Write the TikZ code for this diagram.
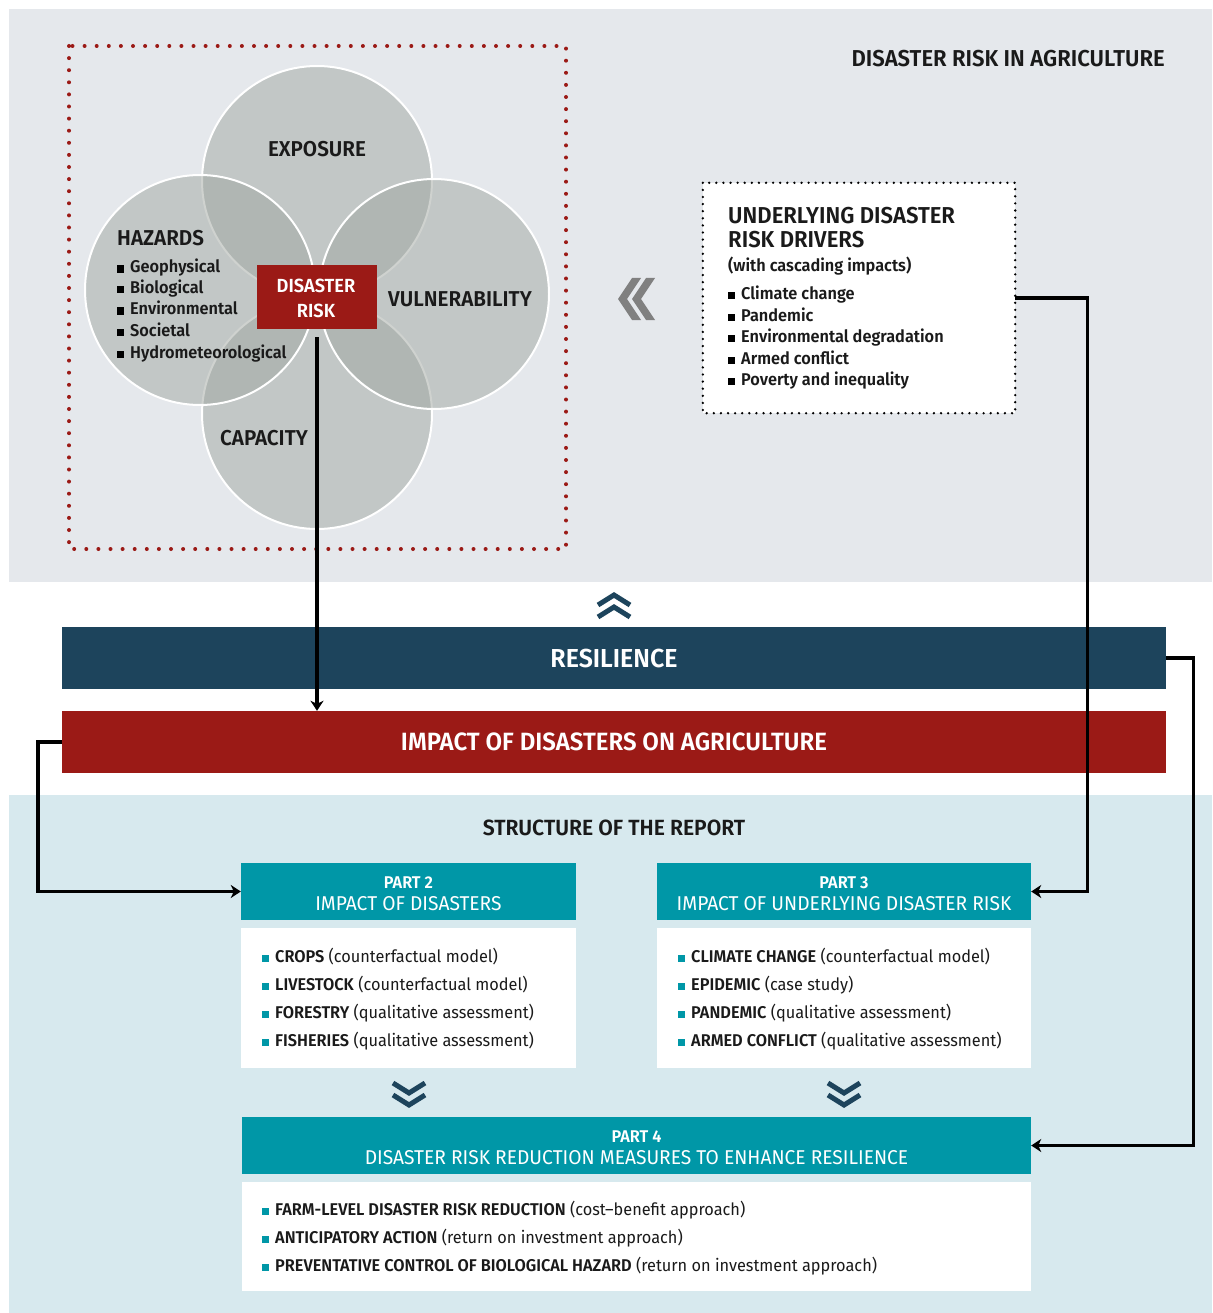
\documentclass[tikz,border=0pt]{standalone}
\usepackage{fontspec}
\setmainfont{Fira Sans}[FakeStretch=0.96, BoldFont={Fira Sans SemiBold}]
\usetikzlibrary{arrows.meta}
\definecolor{bgtop}{RGB}{229,232,236}
\definecolor{bgbot}{RGB}{215,233,238}
\definecolor{dred}{RGB}{155,26,22}
\definecolor{navy}{RGB}{29,68,92}
\definecolor{tealc}{RGB}{0,151,167}
\definecolor{vennc}{RGB}{160,167,161}
\definecolor{txt}{RGB}{26,26,26}
\definecolor{chev}{RGB}{128,128,128}
\newcommand\fsz[1]{\fontsize{#1}{#1}\selectfont}
\newcommand\tbul{\textcolor{tealc}{\rule[0.5pt]{7pt}{7pt}}\hspace{6pt}}
\newcommand\kbul{\textcolor{black}{\rule[0.5pt]{7pt}{7pt}}\hspace{6pt}}
\begin{document}
\begin{tikzpicture}[x=1pt,y=-1pt,
  vcirc/.style={circle, minimum size=230pt, inner sep=0pt, fill=vennc, fill opacity=0.5, draw=white, line width=2pt},
  bar/.style={minimum width=1104pt, minimum height=62pt, inner sep=0pt, text=white, font=\bfseries\fsz{25}},
  phead/.style={fill=tealc, minimum height=57pt, inner sep=0pt},
  pbody/.style={fill=white, inner sep=0pt},
  ptxt/.style={anchor=base west, inner sep=0pt, text=txt, font=\fsz{17}},
  htxt/.style={anchor=base, inner sep=0pt, text=white},
  vlab/.style={inner sep=0pt, text=txt, font=\bfseries\fsz{21.5}},
  ltxt/.style={anchor=base west, inner sep=0pt, text=txt, font=\bfseries\fsz{17}},
  conn/.style={draw=black, line width=3.4pt},
  tip/.style={-{Stealth[length=10pt,width=13pt,inset=3pt]}},
  chevs/.style={draw=navy, line width=5pt, miter limit=10}
]
\useasboundingbox (0,0) rectangle (1212,1313);
\fill[bgtop] (9,9) rectangle (1212,582);
\fill[bgbot] (9,795) rectangle (1212,1313);

% title
\node[anchor=east, inner sep=0pt, text=txt, font=\bfseries\fsz{23}] (title) at (1165,59) {DISASTER RISK IN AGRICULTURE};

% red dotted frame
\draw[dred, line width=4pt, line cap=round, dash pattern=on 0pt off 12.1pt] (69,46) rectangle (566,549);

% venn circles
\node[vcirc] (exp) at (317,181) {};
\node[vcirc] (cap) at (317,414) {};
\node[vcirc] (haz) at (200,290) {};
\node[vcirc] (vul) at (434,294) {};

\node[vlab] (expl) at (317,149) {EXPOSURE};
\node[vlab, anchor=west] (hazl) at (117,238) {HAZARDS};
\node[vlab] (vull) at (460,299) {VULNERABILITY};
\node[vlab] (capl) at (264,438) {CAPACITY};

\node[ltxt] (h1) at (117,273) {\kbul Geophysical};
\node[ltxt] (h2) at (117,294) {\kbul Biological};
\node[ltxt] (h3) at (117,315) {\kbul Environmental};
\node[ltxt] (h4) at (117,336) {\kbul Societal};
\node[ltxt] (h5) at (117,358) {\kbul Hydrometeorological};

\node[fill=dred, minimum width=120pt, minimum height=64pt, inner sep=0pt] (dr) at (317,297) {};
\node[htxt, font=\bfseries\fsz{19}] (dr1) at (316,293) {DISASTER};
\node[htxt, font=\bfseries\fsz{19}] (dr2) at (316,317) {RISK};

% guillemet
\fill[chev] (632,278) -- (641,278) -- (627,299) -- (641,320) -- (632,320) -- (618,299) -- cycle;
\fill[chev] (646,278) -- (655,278) -- (641,299) -- (655,320) -- (646,320) -- (632,299) -- cycle;

% underlying drivers box
\node[fill=white, minimum width=312pt, minimum height=230pt, inner sep=0pt] (ud) at (859,298) {};
\draw[black, line width=2.6pt, line cap=round, dash pattern=on 0pt off 7.1pt] (ud.north west) rectangle (ud.south east);
\node[ltxt, font=\bfseries\fsz{23}] (u1) at (728,224) {UNDERLYING DISASTER};
\node[ltxt, font=\bfseries\fsz{23}] (u2) at (728,248) {RISK DRIVERS};
\node[ltxt] (u3) at (728,272) {(with cascading impacts)};
\node[ltxt] (d1) at (728,300) {\kbul Climate change};
\node[ltxt] (d2) at (728,321) {\kbul Pandemic};
\node[ltxt] (d3) at (728,342) {\kbul Environmental degradation};
\node[ltxt] (d4) at (728,364) {\kbul Armed conflict};
\node[ltxt] (d5) at (728,385) {\kbul Poverty and inequality};

% up chevrons
\draw[chevs] (598,605) -- (614,595) -- (630,605);
\draw[chevs] (598,617) -- (614,607) -- (630,617);

% bars
\node[bar, fill=navy, font=\bfseries\fsz{26}] (res) at (614,658) {RESILIENCE};
\node[bar, fill=dred] (imp) at (614,742) {IMPACT OF DISASTERS ON AGRICULTURE};

\node[inner sep=0pt, text=txt, font=\bfseries\fsz{22}] (str) at (614,828) {STRUCTURE OF THE REPORT};

% part 2
\node[phead, minimum width=335pt] (p2h) at (408.5,891.5) {};
\node[htxt, font=\bfseries\fsz{17}] (p2a) at (408.5,888) {PART 2};
\node[htxt, font=\fsz{20}] (p2b) at (408.5,910) {IMPACT OF DISASTERS};
\node[pbody, minimum width=335pt, minimum height=140pt] (p2body) at (408.5,998) {};
\node[ptxt] (p2l1) at (262,962) {\tbul\textbf{CROPS} (counterfactual model)};
\node[ptxt] (p2l2) at (262,990) {\tbul\textbf{LIVESTOCK} (counterfactual model)};
\node[ptxt] (p2l3) at (262,1018) {\tbul\textbf{FORESTRY} (qualitative assessment)};
\node[ptxt] (p2l4) at (262,1046) {\tbul\textbf{FISHERIES} (qualitative assessment)};

% part 3
\node[phead, minimum width=374pt] (p3h) at (844,891.5) {};
\node[htxt, font=\bfseries\fsz{17}] (p3a) at (844,888) {PART 3};
\node[htxt, font=\fsz{20}] (p3b) at (844,910) {IMPACT OF UNDERLYING DISASTER RISK};
\node[pbody, minimum width=374pt, minimum height=140pt] (p3body) at (844,998) {};
\node[ptxt] (p3l1) at (678,962) {\tbul\textbf{CLIMATE CHANGE} (counterfactual model)};
\node[ptxt] (p3l2) at (678,990) {\tbul\textbf{EPIDEMIC} (case study)};
\node[ptxt] (p3l3) at (678,1018) {\tbul\textbf{PANDEMIC} (qualitative assessment)};
\node[ptxt] (p3l4) at (678,1046) {\tbul\textbf{ARMED CONFLICT} (qualitative assessment)};

% down chevrons
\draw[chevs] (393,1083) -- (409,1093) -- (425,1083);
\draw[chevs] (393,1095) -- (409,1105) -- (425,1095);
\draw[chevs] (828,1083) -- (844,1093) -- (860,1083);
\draw[chevs] (828,1095) -- (844,1105) -- (860,1095);

% part 4
\node[phead, minimum width=789pt] (p4h) at (636.5,1145.5) {};
\node[htxt, font=\bfseries\fsz{17}] (p4a) at (636.5,1142) {PART 4};
\node[htxt, font=\fsz{20}] (p4b) at (636.5,1164) {DISASTER RISK REDUCTION MEASURES TO ENHANCE RESILIENCE};
\node[pbody, minimum width=789pt, minimum height=109pt] (p4body) at (636.5,1236.5) {};
\node[ptxt] (p4l1) at (262,1215) {\tbul\textbf{FARM-LEVEL DISASTER RISK REDUCTION} (cost–benefit approach)};
\node[ptxt] (p4l2) at (262,1243) {\tbul\textbf{ANTICIPATORY ACTION} (return on investment approach)};
\node[ptxt] (p4l3) at (262,1271) {\tbul\textbf{PREVENTATIVE CONTROL OF BIOLOGICAL HAZARD} (return on investment approach)};

% connectors
\draw[conn, tip, shorten <=8pt] (dr.south) -- (dr.south |- imp.north);
\draw[conn, tip] (ud.east) -- ++(72,0) |- (p3h.east);
\draw[conn, tip] (res.east) -- ++(27,0) |- (p4h.east);
\draw[conn, tip] (imp.west) -- ++(-24,0) |- (p2h.west);
\end{tikzpicture}
\end{document}
